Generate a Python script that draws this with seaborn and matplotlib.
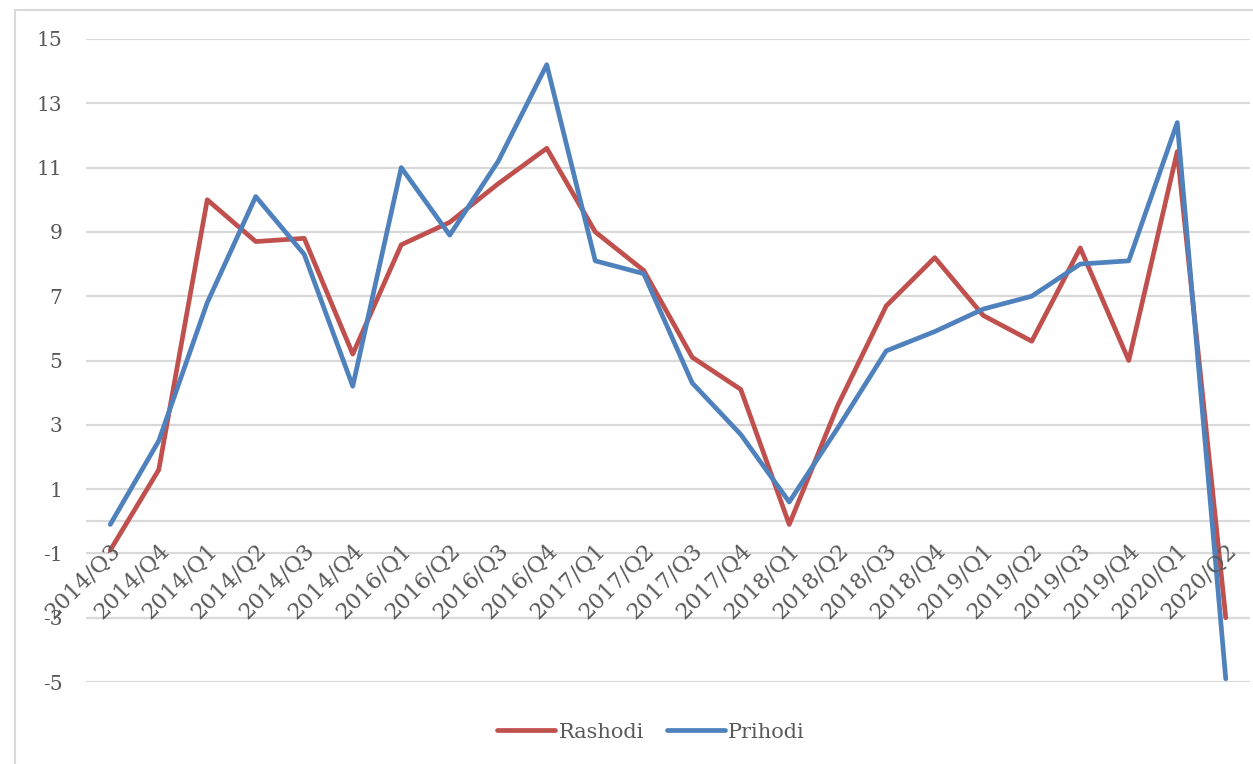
import pandas as pd
import matplotlib
matplotlib.use("Agg")
import matplotlib.pyplot as plt
from matplotlib.patches import Rectangle
import seaborn as sns

# Podaci (očitani s grafikona)
kvartali = ["2014/Q3", "2014/Q4", "2014/Q1", "2014/Q2", "2014/Q3", "2014/Q4",
            "2016/Q1", "2016/Q2", "2016/Q3", "2016/Q4", "2017/Q1", "2017/Q2",
            "2017/Q3", "2017/Q4", "2018/Q1", "2018/Q2", "2018/Q3", "2018/Q4",
            "2019/Q1", "2019/Q2", "2019/Q3", "2019/Q4", "2020/Q1", "2020/Q2"]
rashodi = [-0.9, 1.6, 10.0, 8.7, 8.8, 5.2, 8.6, 9.3, 10.5, 11.6, 9.0, 7.8,
           5.1, 4.1, -0.1, 3.6, 6.7, 8.2, 6.4, 5.6, 8.5, 5.0, 11.5, -3.0]
prihodi = [-0.1, 2.5, 6.8, 10.1, 8.3, 4.2, 11.0, 8.9, 11.2, 14.2, 8.1, 7.7,
           4.3, 2.7, 0.6, 2.9, 5.3, 5.9, 6.6, 7.0, 8.0, 8.1, 12.4, -4.9]
y_ticks = [-5, -3, -1, 1, 3, 5, 7, 9, 11, 13, 15]

n = len(kvartali)
df = pd.DataFrame({
    "idx": list(range(n)) * 2,
    "vrijednost": rashodi + prihodi,
    "serija": ["Rashodi"] * n + ["Prihodi"] * n,
})

sns.set_style("white")
plt.rcParams["font.family"] = ["DejaVu Serif"]
siva = "#595959"
grid_boja = "#d9d9d9"

fig = plt.figure(figsize=(12.53, 7.64), dpi=100)
ax = fig.add_axes([86 / 1253, 1 - 682 / 764, (1250 - 86) / 1253, (682 - 39) / 764])

# okvir grafikona
fig.patches.append(Rectangle((15 / 1253, -0.01), 1.0, 1 - 10 / 764 + 0.01,
                             transform=fig.transFigure, fill=False,
                             edgecolor=grid_boja, linewidth=1.5))

for y in y_ticks:
    ax.axhline(y, color=grid_boja, linewidth=1.6, zorder=0)
ax.axhline(0, color=grid_boja, linewidth=1.6, zorder=0)

sns.lineplot(data=df, x="idx", y="vrijednost", hue="serija",
             palette={"Rashodi": "#c0504d", "Prihodi": "#4f81bd"},
             linewidth=3.4, ax=ax, legend=True)
for line in ax.get_lines():
    line.set_solid_joinstyle("round")
    line.set_solid_capstyle("round")

ax.set_xlim(-0.5, n - 0.5)
ax.set_ylim(-5, 15)
ax.set_yticks(y_ticks)
ax.set_yticklabels([str(v) for v in y_ticks])
ax.set_xticks([])
ax.set_xlabel("")
ax.set_ylabel("")
ax.tick_params(axis="y", length=0, pad=17, labelsize=14.5, labelcolor=siva)
for s in ax.spines.values():
    s.set_visible(False)

# oznake kategorija uz os (y = 0)
for i, lab in enumerate(kvartali):
    ax.text(i + 0.15, -0.8, lab, rotation=45, rotation_mode="anchor",
            ha="right", va="center", fontsize=16, color=siva)

handles, labels = ax.get_legend_handles_labels()
ax.legend(handles, labels, loc="center", bbox_to_anchor=(651 / 1253, 1 - 732 / 764),
          bbox_transform=fig.transFigure, ncol=2, frameon=False, fontsize=15,
          labelcolor=siva, handlelength=2.8, handletextpad=0.15, columnspacing=1.1)

fig.savefig("out.png", dpi=100)
